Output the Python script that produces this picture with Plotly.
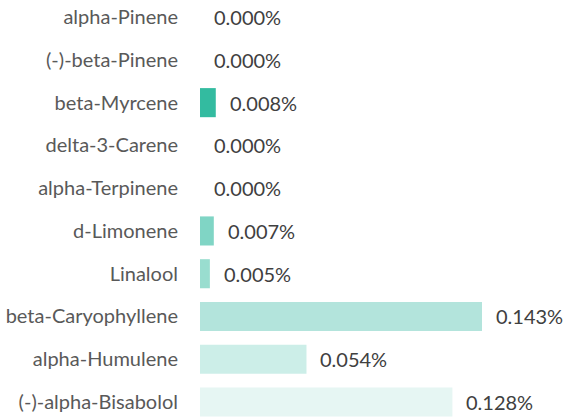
import plotly.graph_objects as go

categories = ["alpha-Pinene", "(-)-beta-Pinene", "beta-Myrcene", "delta-3-Carene",
              "alpha-Terpinene", "d-Limonene", "Linalool", "beta-Caryophyllene",
              "alpha-Humulene", "(-)-alpha-Bisabolol"]
values = [0.000, 0.000, 0.008, 0.000, 0.000, 0.007, 0.005, 0.143, 0.054, 0.128]
value_labels = ["0.000%", "0.000%", "0.008%", "0.000%", "0.000%", "0.007%",
                "0.005%", "0.143%", "0.054%", "0.128%"]
colors = ["#33BBA0", "#33BBA0", "#33BBA0", "#33BBA0", "#33BBA0", "#80D5C5",
          "#99DDCF", "#B3E4DC", "#CCEEE8", "#E6F6F3"]

fig = go.Figure()
fig.add_trace(go.Bar(
    y=categories, x=values, orientation="h",
    marker=dict(color=colors, line=dict(width=0)),
    hoverinfo="skip",
))

for c, v, t in zip(categories, values, value_labels):
    fig.add_annotation(x=v, y=c, text=t, showarrow=False, xanchor="left",
                       xshift=12, font=dict(family="Lato", size=20, color="#404040"))

fig.update_layout(
    width=563, height=417,
    margin=dict(l=200, r=0, t=0, b=0),
    paper_bgcolor="white", plot_bgcolor="white",
    bargap=0.32, showlegend=False,
    font=dict(family="Lato", size=20, color="#595959"),
    xaxis=dict(range=[0, 363 / 1972], visible=False, showgrid=False, zeroline=False),
    yaxis=dict(type="category", categoryorder="array", categoryarray=categories,
               range=[9.35, -0.40], showgrid=False, zeroline=False, showline=False,
               ticks="", ticklabelstandoff=21,
               tickfont=dict(family="Lato", size=20, color="#595959")),
)

fig.write_html(
    "out.html",
    config={"displayModeBar": False},
    post_script="document.body.style.margin='0';document.body.style.overflow='hidden';",
)
